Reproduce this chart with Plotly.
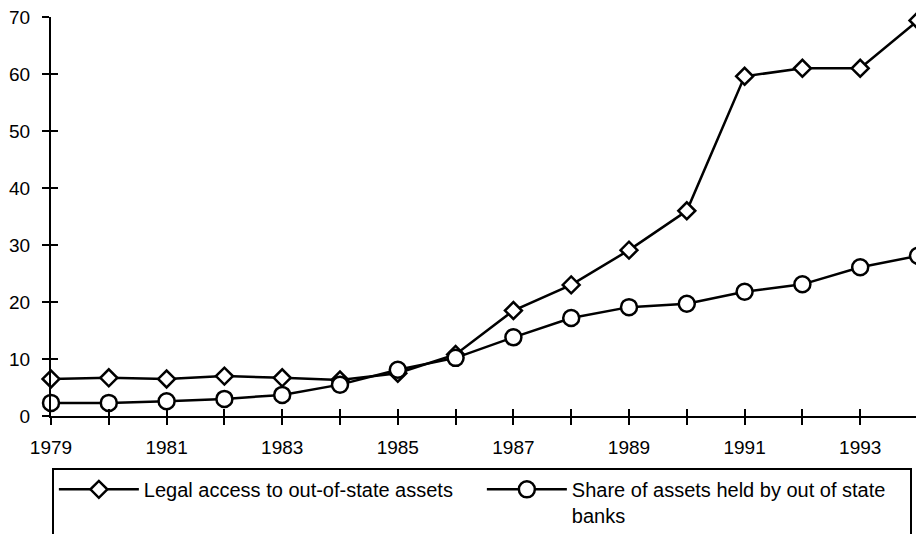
import plotly.graph_objects as go

years = list(range(1979, 1995))
legal_access = [6.5, 6.7, 6.5, 7.0, 6.7, 6.3, 7.5, 10.8, 18.5, 23.0, 29.1, 36.0, 59.6, 61.0, 61.0, 69.4]
share_assets = [2.3, 2.3, 2.6, 3.0, 3.7, 5.5, 8.1, 10.2, 13.8, 17.2, 19.1, 19.7, 21.8, 23.1, 26.1, 28.1]
x_tick_labels = ["1979", "", "1981", "", "1983", "", "1985", "", "1987", "", "1989", "", "1991", "", "1993", ""]
y_ticks = [0, 10, 20, 30, 40, 50, 60, 70]

FONT = "Liberation Sans, Arial, sans-serif"

fig = go.Figure()
fig.add_trace(go.Scatter(
    x=years, y=legal_access, mode="lines+markers",
    name="Legal access to out-of-state assets",
    line=dict(color="black", width=2.5),
    marker=dict(symbol="diamond", size=13, color="white", line=dict(color="black", width=2.5)),
    cliponaxis=False,
))
fig.add_trace(go.Scatter(
    x=years, y=share_assets, mode="lines+markers",
    name="Share of assets held by out of state<br>banks",
    line=dict(color="black", width=2.5),
    marker=dict(symbol="circle", size=16, color="white", line=dict(color="black", width=2.5)),
    cliponaxis=False,
))
# empty helper trace so the overlaying tick-only axes get drawn
fig.add_trace(go.Scatter(x=[], y=[], xaxis="x2", yaxis="y2", showlegend=False, hoverinfo="skip"))

axis_common = dict(showgrid=False, zeroline=False, tickcolor="black", tickwidth=2, ticklen=7, automargin=False)

# page body has an 8px margin, so the figure is sized/offset to compensate
fig.update_layout(
    width=916, height=526,
    margin=dict(l=43, r=6, t=9, b=118, autoexpand=False),
    paper_bgcolor="white", plot_bgcolor="white",
    font=dict(family=FONT, size=19, color="black"),
    showlegend=True,
    legend=dict(
        orientation="h", x=0.001, y=-0.13, xanchor="left", yanchor="top",
        bordercolor="black", borderwidth=2, font=dict(size=20, family=FONT),
        itemwidth=80, entrywidth=333, traceorder="normal", valign="top",
    ),
    xaxis=dict(
        range=[1979, 1994], tickmode="array", tickvals=years, ticktext=x_tick_labels,
        showline=True, linecolor="black", linewidth=2, ticks="outside",
        ticklabelstandoff=6, ticklabeloverflow="allow", **axis_common,
    ),
    yaxis=dict(
        range=[0, 70], tickmode="array", tickvals=y_ticks,
        showline=True, linecolor="black", linewidth=2, ticks="outside",
        ticklabelstandoff=8, ticklabeloverflow="allow", **axis_common,
    ),
    xaxis2=dict(
        range=[1979, 1994], overlaying="x", anchor="y2", tickmode="array", tickvals=years,
        showticklabels=False, showline=False, ticks="inside", side="bottom", **axis_common,
    ),
    yaxis2=dict(
        range=[0, 70], overlaying="y", anchor="x2", tickmode="array", tickvals=y_ticks,
        showticklabels=False, showline=False, ticks="inside", side="left", **axis_common,
    ),
)

fig.write_html("out.html")
